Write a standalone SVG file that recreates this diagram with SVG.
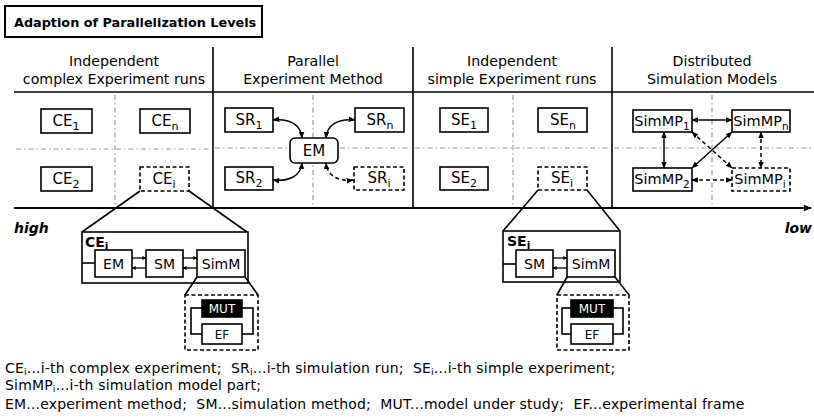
<svg xmlns="http://www.w3.org/2000/svg" width="814" height="419" viewBox="0 0 814 419">
<style>
text{font-family:"DejaVu Sans",Verdana,sans-serif;fill:#000}
.ttl{font-size:12.8px;font-weight:bold}
.hd{font-size:14.2px;text-anchor:middle}
.bx{fill:#fff;stroke:#000;stroke-width:1.6}
.dbx{fill:#fff;stroke:#000;stroke-width:1.6;stroke-dasharray:4,2.5}
.lb{font-size:15px;text-anchor:middle}
.sl{font-size:14.5px;text-anchor:middle}
.zl{font-size:14px;text-anchor:middle}
.grid{stroke:#9a9a9a;stroke-width:1.2;stroke-dasharray:5,3,1.5,3;fill:none}
.ln{stroke:#000;stroke-width:1.6;fill:none}
.ar{stroke:#000;stroke-width:1.5;fill:none;marker-start:url(#ah);marker-end:url(#ah)}
.dar{stroke:#000;stroke-width:1.5;fill:none;stroke-dasharray:4,3;marker-start:url(#ah);marker-end:url(#ah)}
.sar{stroke:#000;stroke-width:1.3;fill:none;marker-end:url(#sh)}
.lg{font-size:14px;white-space:pre;letter-spacing:0.18px}
.bi{font-size:14px;font-weight:bold;font-style:italic}
.mut{font-size:12px;text-anchor:middle;fill:#fff}
.ef{font-size:12px;text-anchor:middle}
</style>
<defs>
<marker id="ah" viewBox="0 0 10 10" refX="9" refY="5" markerWidth="7" markerHeight="7" markerUnits="userSpaceOnUse" orient="auto-start-reverse"><path d="M0,1 L10,5 L0,9 z" fill="#000"/></marker>
<marker id="sh" viewBox="0 0 10 10" refX="9" refY="5" markerWidth="4" markerHeight="4" markerUnits="userSpaceOnUse" orient="auto"><path d="M0,0 L10,5 L0,10 z" fill="#000"/></marker>
<marker id="axh" viewBox="0 0 10 10" refX="9" refY="5" markerWidth="10" markerHeight="8" markerUnits="userSpaceOnUse" orient="auto"><path d="M0,1 L10,5 L0,9 z" fill="#000"/></marker>
</defs>

<g id="title">
<rect x="5" y="6" width="257" height="31" fill="#fff" stroke="#000" stroke-width="2"/>
<text class="ttl" x="14" y="27">Adaption of Parallelization Levels</text>
</g>

<g id="frame">
<line class="ln" x1="14" y1="92" x2="814" y2="92"/>
<line class="ln" x1="213" y1="47" x2="213" y2="208"/>
<line class="ln" x1="413" y1="47" x2="413" y2="208"/>
<line class="ln" x1="612" y1="47" x2="612" y2="208"/>
<line x1="14" y1="208" x2="811" y2="208" stroke="#000" stroke-width="2" marker-end="url(#axh)"/>
<text class="bi" x="14" y="233">high</text>
<text class="bi" x="812" y="233" text-anchor="end">low</text>
</g>

<g id="headers">
<text class="hd" x="114" y="66">Independent</text>
<text class="hd" x="114" y="84">complex Experiment runs</text>
<text class="hd" x="313" y="66">Parallel</text>
<text class="hd" x="313" y="84">Experiment Method</text>
<text class="hd" x="512" y="66">Independent</text>
<text class="hd" x="512" y="84">simple Experiment runs</text>
<text class="hd" x="712" y="66">Distributed</text>
<text class="hd" x="712" y="84">Simulation Models</text>
</g>

<g id="grid">
<line class="grid" x1="115" y1="95" x2="115" y2="207"/>
<line class="grid" x1="16" y1="149" x2="211" y2="149"/>
<line class="grid" x1="313" y1="95" x2="313" y2="207"/>
<line class="grid" x1="215" y1="148" x2="411" y2="148"/>
<line class="grid" x1="513" y1="95" x2="513" y2="207"/>
<line class="grid" x1="415" y1="148" x2="610" y2="148"/>
<line class="grid" x1="712" y1="95" x2="712" y2="207"/>
<line class="grid" x1="614" y1="148" x2="812" y2="148"/>
</g>

<g id="connectors">
<path class="ar" d="M273,120 C290,118 301,125 302,138"/>
<path class="ar" d="M355,120 C338,118 327,125 326,138"/>
<path class="ar" d="M273,180 C290,182 301,175 302,163"/>
<path class="dar" d="M353,180 C338,182 327,175 326,163"/>
<line class="ar" x1="692" y1="120" x2="732" y2="120"/>
<line class="ar" x1="664" y1="132" x2="664" y2="168"/>
<line class="ar" x1="732" y1="132" x2="692" y2="168"/>
<line class="dar" x1="692" y1="132" x2="732" y2="168"/>
<line class="dar" x1="761" y1="132" x2="761" y2="168"/>
<line class="dar" x1="692" y1="180" x2="732" y2="180"/>
</g>

<g id="CE1"><rect class="bx" x="41" y="109" width="51" height="24"/><text class="lb" x="66" y="126">CE<tspan dy="4" font-size="11">1</tspan></text></g>
<g id="CEn"><rect class="bx" x="140" y="109" width="50" height="24"/><text class="lb" x="165" y="126">CE<tspan dy="4" font-size="11">n</tspan></text></g>
<g id="CE2"><rect class="bx" x="41" y="167" width="51" height="24"/><text class="lb" x="66" y="184">CE<tspan dy="4" font-size="11">2</tspan></text></g>
<g id="CEi"><rect class="dbx" x="140" y="167" width="49" height="24"/><text class="lb" x="164" y="184">CE<tspan dy="4" font-size="11">i</tspan></text></g>

<g id="SR1"><rect class="bx" x="225" y="108" width="48" height="24"/><text class="lb" x="249" y="125">SR<tspan dy="4" font-size="11">1</tspan></text></g>
<g id="SRn"><rect class="bx" x="355" y="108" width="49" height="24"/><text class="lb" x="380" y="125">SR<tspan dy="4" font-size="11">n</tspan></text></g>
<g id="EM"><rect class="bx" x="290" y="138" width="48" height="25" rx="5"/><text class="lb" x="314" y="156">EM</text></g>
<g id="SR2"><rect class="bx" x="225" y="167" width="48" height="23"/><text class="lb" x="249" y="183">SR<tspan dy="4" font-size="11">2</tspan></text></g>
<g id="SRi"><rect class="dbx" x="354" y="167" width="50" height="23"/><text class="lb" x="379" y="183">SR<tspan dy="4" font-size="11">i</tspan></text></g>

<g id="SE1"><rect class="bx" x="440" y="108" width="48" height="24"/><text class="lb" x="464" y="125">SE<tspan dy="4" font-size="11">1</tspan></text></g>
<g id="SEn"><rect class="bx" x="538" y="108" width="49" height="24"/><text class="lb" x="563" y="125">SE<tspan dy="4" font-size="11">n</tspan></text></g>
<g id="SE2"><rect class="bx" x="440" y="167" width="48" height="23"/><text class="lb" x="464" y="183">SE<tspan dy="4" font-size="11">2</tspan></text></g>
<g id="SEi"><rect class="dbx" x="538" y="167" width="49" height="23"/><text class="lb" x="562" y="183">SE<tspan dy="4" font-size="11">i</tspan></text></g>

<g id="SimMP1"><rect class="bx" x="633" y="110" width="59" height="22"/><text class="sl" x="662" y="126">SimMP<tspan dy="4" font-size="10.5">1</tspan></text></g>
<g id="SimMPn"><rect class="bx" x="732" y="110" width="58" height="22"/><text class="sl" x="761" y="126">SimMP<tspan dy="4" font-size="10.5">n</tspan></text></g>
<g id="SimMP2"><rect class="bx" x="633" y="168" width="59" height="23"/><text class="sl" x="662" y="184">SimMP<tspan dy="4" font-size="10.5">2</tspan></text></g>
<g id="SimMPi"><rect class="dbx" x="732" y="168" width="58" height="23"/><text class="sl" x="760" y="184">SimMP<tspan dy="4" font-size="10.5">i</tspan></text></g>

<g id="CEi-detail">
<path class="ln" d="M140,191 L82,232 M189,191 L247,232"/>
<rect class="bx" x="82" y="232" width="166" height="51"/>
<text x="85" y="247" font-size="14" font-weight="bold">CE<tspan dy="3" font-size="10.5">i</tspan></text>
<line class="ln" x1="82" y1="263" x2="95" y2="263"/>
<rect class="bx" x="95" y="250" width="37" height="27"/><text class="zl" x="113.5" y="268.5">EM</text>
<rect class="bx" x="146" y="250" width="37" height="27"/><text class="zl" x="164.5" y="268.5">SM</text>
<rect class="bx" x="197" y="250" width="48" height="27"/><text class="zl" x="221" y="268.5">SimM</text>
<line class="sar" x1="132" y1="258" x2="146" y2="258"/>
<line class="sar" x1="146" y1="268" x2="132" y2="268"/>
<line class="sar" x1="183" y1="258" x2="197" y2="258"/>
<line class="sar" x1="197" y1="268" x2="183" y2="268"/>
<path class="ln" d="M197,277 L185,295 M245,277 L258,295"/>
<rect class="dbx" x="185" y="295" width="73" height="55"/>
<rect class="ln" x="191" y="308" width="62" height="26"/>
<rect x="202" y="300" width="40" height="17" fill="#000" stroke="#000" stroke-width="1.6"/><text class="mut" x="222" y="313">MUT</text>
<rect class="bx" x="202" y="324" width="40" height="20"/><text class="ef" x="222" y="338.5">EF</text>
</g>

<g id="SEi-detail">
<path class="ln" d="M538,190 L503,231 M587,190 L620,231"/>
<rect class="bx" x="503" y="231" width="117" height="51"/>
<text x="507" y="246" font-size="14" font-weight="bold">SE<tspan dy="3" font-size="10.5">i</tspan></text>
<line class="ln" x1="503" y1="264" x2="516" y2="264"/>
<rect class="bx" x="516" y="250" width="37" height="27"/><text class="zl" x="534.5" y="268.5">SM</text>
<rect class="bx" x="567" y="250" width="48" height="27"/><text class="zl" x="591" y="268.5">SimM</text>
<line class="sar" x1="553" y1="258" x2="567" y2="258"/>
<line class="sar" x1="567" y1="268" x2="553" y2="268"/>
<path class="ln" d="M567,277 L557,295 M615,277 L629,295"/>
<rect class="dbx" x="557" y="295" width="72" height="55"/>
<rect class="ln" x="562" y="308" width="61" height="26"/>
<rect x="571" y="300" width="42" height="17" fill="#000" stroke="#000" stroke-width="1.6"/><text class="mut" x="592" y="313">MUT</text>
<rect class="bx" x="571" y="324" width="42" height="20"/><text class="ef" x="592" y="338.5">EF</text>
</g>

<g id="legend">
<text class="lg" x="5" y="373">CE<tspan dy="1.5" font-size="9.5">i</tspan><tspan dy="-1.5">...i-th complex experiment;  SR</tspan><tspan dy="1.5" font-size="9.5">i</tspan><tspan dy="-1.5">...i-th simulation run;  SE</tspan><tspan dy="1.5" font-size="9.5">i</tspan><tspan dy="-1.5">...i-th simple experiment;</tspan></text>
<text class="lg" x="5" y="390">SimMP<tspan dy="1.5" font-size="9.5">i</tspan><tspan dy="-1.5">...i-th simulation model part;</tspan></text>
<text class="lg" x="5" y="408.5">EM...experiment method;  SM...simulation method;  MUT...model under study;  EF...experimental frame</text>
</g>
</svg>
